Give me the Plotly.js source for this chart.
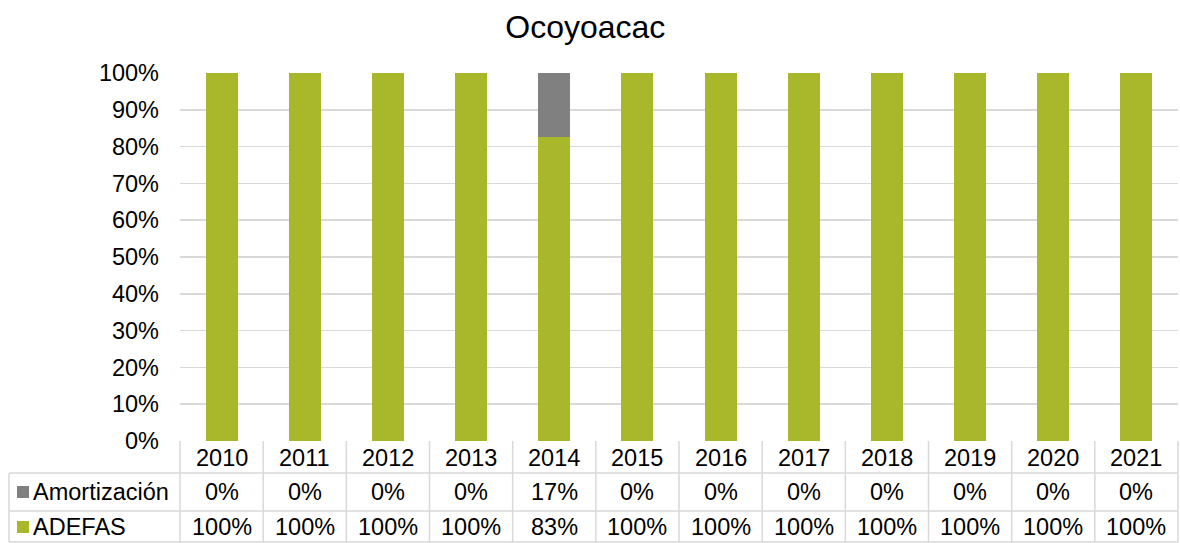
<!DOCTYPE html>
<html>
<head>
<meta charset="utf-8">
<script src="https://cdn.plot.ly/plotly-3.0.1.min.js"></script>
<style>html,body{margin:0;padding:0;background:#fff;}#chart{width:1180px;height:543px;}</style>
</head>
<body>
<div id="chart"></div>
<script>
const categories = ['2010','2011','2012','2013','2014','2015','2016','2017','2018','2019','2020','2021'];
const adefas = [1, 1, 1, 1, 0.826, 1, 1, 1, 1, 1, 1, 1];
const amortizacion = [0, 0, 0, 0, 0.174, 0, 0, 0, 0, 0, 0, 0];
const seriesNames = ['Amortización', 'ADEFAS'];
const title = 'Ocoyoacac';

const GREEN = '#a9b82a';
const GRAY = '#808080';
const LINE = '#d9d9d9';
const FONT = 'Liberation Sans, Arial, sans-serif';
const FS = 23.5;

const traces = [
  {type:'bar', x:categories, y:adefas, name:seriesNames[1], marker:{color:GREEN}, hoverinfo:'skip'},
  {type:'bar', x:categories, y:amortizacion, name:seriesNames[0], marker:{color:GRAY}, hoverinfo:'skip'}
];

// pixel-to-paper helpers (plot area: x 180..1178, y 73..441)
const PL=180, PR=1178, PT=73, PB=441;
const px = v => (v-PL)/(PR-PL);
const py = v => (PB-v)/(PB-PT);

const shapes = [];
const annotations = [];
const rowY = {header:458, amort:492, adefas:527};
const lineYs = [473, 511, 542];
lineYs.forEach(yv => shapes.push({type:'line', xref:'paper', yref:'paper', x0:px(9), x1:1, y0:py(yv), y1:py(yv), line:{color:LINE, width:1.5}}));
for (let k=0;k<=categories.length;k++){
  shapes.push({type:'line', xref:'paper', yref:'paper', x0:k/categories.length, x1:k/categories.length, y0:py(PB), y1:py(542), line:{color:LINE, width:1.5}});
}
shapes.push({type:'line', xref:'paper', yref:'paper', x0:px(9), x1:px(9), y0:py(473), y1:py(542), line:{color:LINE, width:1.5}});
shapes.push({type:'rect', xref:'paper', yref:'paper', x0:px(17), x1:px(29), y0:py(rowY.amort-6), y1:py(rowY.amort+6), fillcolor:GRAY, line:{width:0}});
shapes.push({type:'rect', xref:'paper', yref:'paper', x0:px(17), x1:px(29), y0:py(rowY.adefas-6), y1:py(rowY.adefas+6), fillcolor:GREEN, line:{width:0}});

const fmt = v => Math.round(v*100) + '%';
const n = categories.length;
categories.forEach((c,i) => {
  const xp = (i+0.5)/n;
  annotations.push({xref:'paper', yref:'paper', x:xp, y:py(rowY.header), text:c, showarrow:false, xanchor:'center', yanchor:'middle', font:{family:FONT,size:FS,color:'#000'}});
  annotations.push({xref:'paper', yref:'paper', x:xp, y:py(rowY.amort), text:fmt(amortizacion[i]), showarrow:false, xanchor:'center', yanchor:'middle', font:{family:FONT,size:FS,color:'#000'}});
  annotations.push({xref:'paper', yref:'paper', x:xp, y:py(rowY.adefas), text:fmt(adefas[i]), showarrow:false, xanchor:'center', yanchor:'middle', font:{family:FONT,size:FS,color:'#000'}});
});
annotations.push({xref:'paper', yref:'paper', x:px(31), y:py(rowY.amort), text:seriesNames[0], showarrow:false, xanchor:'left', yanchor:'middle', font:{family:FONT,size:FS,color:'#000'}});
annotations.push({xref:'paper', yref:'paper', x:px(31), y:py(rowY.adefas), text:seriesNames[1], showarrow:false, xanchor:'left', yanchor:'middle', font:{family:FONT,size:FS,color:'#000'}});

const layout = {
  width:1180, height:543,
  margin:{l:PL, r:1180-PR, t:PT, b:543-PB},
  paper_bgcolor:'#fff', plot_bgcolor:'#fff',
  barmode:'stack', bargap:0.615,
  showlegend:false,
  title:{text:title, x:0.496, xanchor:'center', y:0.95, yanchor:'middle', font:{family:FONT, size:32, color:'#000'}},
  font:{family:FONT, size:FS, color:'#000'},
  xaxis:{type:'category', categoryorder:'array', categoryarray:categories, range:[-0.5, n-0.5], showticklabels:false, showgrid:false, zeroline:false, showline:false, ticks:'', fixedrange:true},
  yaxis:{range:[0,1], dtick:0.1, tickformat:'.0%', showgrid:true, gridcolor:LINE, gridwidth:1.5, zeroline:false, showline:false, ticks:'', ticklabelstandoff:20, tickfont:{family:FONT,size:FS,color:'#000'}, fixedrange:true},
  shapes:shapes,
  annotations:annotations
};

Plotly.newPlot('chart', traces, layout, {displayModeBar:false, staticPlot:true});
</script>
</body>
</html>
